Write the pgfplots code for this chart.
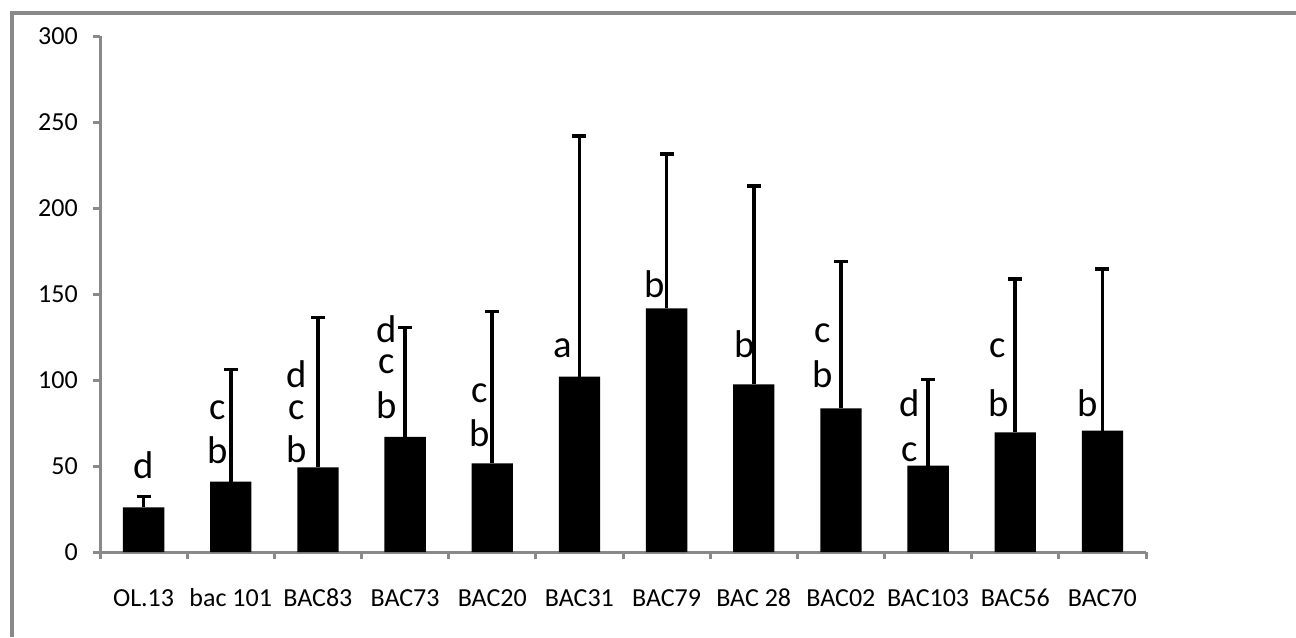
\documentclass[border=0pt]{standalone}
\usepackage{fontspec}
\setmainfont{Carlito}
\usepackage{pgfplots}
\pgfplotsset{compat=1.18}
\definecolor{axgray}{RGB}{137,137,137}
\pgfplotstableread{
x y e
0 26.0 6.2
1 40.9 65.3
2 49.2 87.2
3 67.0 63.6
4 51.6 88.1
5 101.9 140.0
6 141.7 89.7
7 97.5 115.3
8 83.5 85.3
9 50.2 50.2
10 69.6 89.1
11 70.5 94.0
}\bars
\begin{document}
\begin{tikzpicture}[x=0.75pt,y=0.75pt]
\useasboundingbox (0,0) rectangle (1296,637);
\draw[axgray, line width=2.4pt] (12,0) -- (12,624) -- (1296,624);
\begin{axis}[
  at={(75pt,63.75pt)}, anchor=south west,
  scale only axis, width=784.5pt, height=387pt,
  xmin=-0.5, xmax=11.5, ymin=0, ymax=300,
  clip=false,
  axis x line=bottom, axis y line=left,
  axis line style={axgray, line width=2.25pt, -},
  tick style={axgray, line width=2.25pt},
  tick align=outside,
  major tick length=5.5pt,
  ytick={0,50,100,150,200,250,300},
  yticklabels={0,50,100,150,200,250,300},
  xtick={-0.5,0.5,...,11.5},
  x tick label as interval,
  xticklabels={OL.13, bac 101, BAC83, BAC73, BAC20, BAC31, BAC79, BAC 28, BAC02, BAC103, BAC56, BAC70},
  tick label style={font=\fontsize{19.5}{23}\selectfont, text=black},
  yticklabel style={anchor=east, inner sep=0pt, xshift=-11pt},
  xticklabel style={text height=14pt, yshift=-18pt},
]
\addplot[ybar, fill=black, draw=none, bar width=31pt,
  error bars/.cd, y dir=plus, y explicit,
  error bar style={line width=2.8pt, draw=black},
  error mark options={rotate=90, line width=2.4pt, mark size=5.25pt, draw=black}]
  table[x=x, y=y, y error=e]{\bars};
\tikzset{lt/.style={anchor=base, font=\fontsize{29}{31}\selectfont, inner sep=0pt, text depth=0pt, text height=0.45em}}
\node[lt] at (axis cs:0.004,42.8) {d};
\node[lt] at (axis cs:0.852,51.6) {b};
\node[lt] at (axis cs:0.852,77.3) {c};
\node[lt] at (axis cs:1.758,51.9) {b};
\node[lt] at (axis cs:1.758,77.3) {c};
\node[lt] at (axis cs:1.758,95.7) {d};
\node[lt] at (axis cs:2.789,77.7) {b};
\node[lt] at (axis cs:2.789,103.9) {c};
\node[lt] at (axis cs:2.789,121.7) {d};
\node[lt] at (axis cs:3.855,61.2) {b};
\node[lt] at (axis cs:3.855,86.8) {c};
\node[lt] at (axis cs:4.807,113.2) {a};
\node[lt] at (axis cs:5.861,147.9) {b};
\node[lt] at (axis cs:6.893,113.2) {b};
\node[lt] at (axis cs:7.787,95.7) {b};
\node[lt] at (axis cs:7.787,121.7) {c};
\node[lt] at (axis cs:8.784,52.5) {c};
\node[lt] at (axis cs:8.784,78.7) {d};
\node[lt] at (axis cs:9.804,78.7) {b};
\node[lt] at (axis cs:9.804,113.2) {c};
\node[lt] at (axis cs:10.835,78.7) {b};
\end{axis}
\end{tikzpicture}
\end{document}
